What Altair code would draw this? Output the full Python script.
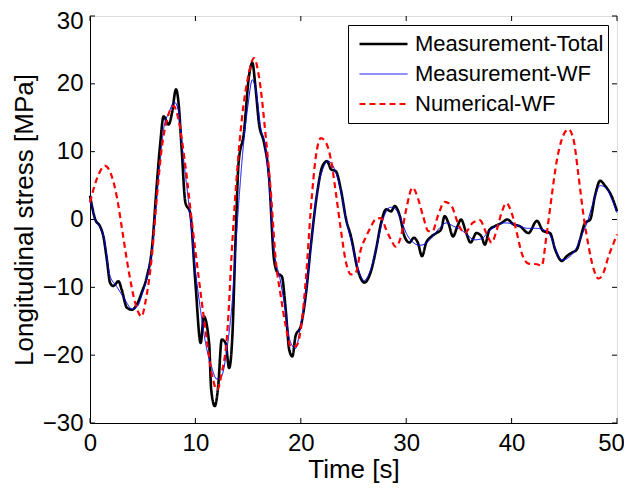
import altair as alt
import pandas as pd

# ---------------- data ----------------
series_names = ["Measurement-Total", "Measurement-WF", "Numerical-WF"]

total_t = [0, 0.5, 0.95, 1.27, 1.6, 1.9, 2.2, 2.7, 3.0, 3.5, 4.0, 4.45, 4.9, 5.4, 5.87,
           6.35, 6.67, 6.98, 7.46, 7.78, 8.16, 8.4, 8.7, 9.05, 9.5, 10.0, 10.5, 10.8, 11.3,
           11.5, 11.84, 12.16, 12.5, 12.86, 13.2, 13.5, 13.8, 14.1, 14.6, 15.08, 15.4, 15.7,
           16.03, 16.5, 16.98, 17.46, 17.8, 18.2, 18.57, 18.9, 19.2, 19.5, 20.0, 20.5, 20.95,
           21.6, 22.06, 22.5, 22.86, 23.33, 23.8, 24.3, 24.76, 25.4, 26.03, 26.7, 27.14,
           27.62, 28.1, 28.57, 28.9, 29.4, 29.84, 30.3, 30.73, 31.1, 31.5, 31.9, 32.4, 32.86,
           33.3, 33.65, 34.0, 34.44, 34.86, 35.2, 35.7, 36.1, 36.67, 37.14, 37.46, 37.9, 38.4,
           39.05, 39.6, 40.16, 40.8, 41.6, 42.4, 43.0, 43.65, 44.13, 44.76, 45.24, 45.7, 46.2,
           46.5, 46.98, 47.46, 47.9, 48.4, 48.9, 49.5, 50.0]
total_v = [3.5, 0.0, -1.0, -2.5, -5.9, -9.3, -9.8, -9.1, -10.3, -13.0, -13.3, -12.5, -10.8,
           -8.4, -4.4, 5.4, 11.3, 15.2, 14.0, 15.7, 19.2, 17.2, 10.3, 2.5, 1.0, -9.3, -18.2,
           -14.3, -18.2, -25.1, -27.5, -24.6, -17.7, -18.2, -21.9, -17.4, -3.4, 8.4, 12.8,
           21.1, 23.1, 19.5, 14.2, 11.4, 6.4, -5.9, -7.9, -8.4, -13.3, -19.2, -20.2, -17.2,
           -15.7, -10.8, -3.9, 4.4, 7.9, 8.6, 7.4, 7.1, 4.4, 0.0, -2.5, -7.4, -9.3, -7.4,
           -4.4, -0.5, 1.5, 1.2, 2.0, 0.5, -2.5, -3.4, -2.7, -3.4, -5.4, -3.4, -2.5, -2.0,
           -1.5, 0.5, -0.5, -2.5, -1.0, 0.0, -2.0, -3.4, -2.0, -2.5, -3.7, -1.5, -1.0, -0.5,
           0.0, -0.7, -1.0, -2.0, -0.2, -1.7, -2.0, -4.4, -6.1, -5.4, -4.9, -4.4, -2.9, -0.5,
           0.0, 3.4, 5.7, 4.9, 3.4, 1.2]

wf_t = [0, 0.5, 1.0, 1.3, 1.9, 2.5, 3.2, 4.0, 4.5, 5.0, 5.5, 6.0, 6.5, 7.0, 7.5, 8.0, 8.4,
        8.8, 9.5, 10.0, 10.5, 11.0, 11.5, 12.0, 12.5, 13.0, 13.5, 14.0, 14.5, 15.0, 15.4,
        15.8, 16.2, 16.6, 17.0, 17.5, 18.0, 18.5, 19.0, 19.5, 20.0, 20.5, 21.0, 21.5, 22.0,
        22.6, 23.3, 23.8, 24.3, 25.0, 25.5, 26.0, 26.6, 27.2, 27.8, 28.5, 29.0, 29.5, 30.0,
        30.6, 31.3, 31.9, 32.5, 33.2, 33.8, 34.5, 35.2, 35.8, 36.5, 37.2, 37.8, 38.5, 39.3,
        40.0, 40.8, 41.5, 42.3, 43.0, 43.6, 44.2, 44.8, 45.4, 46.0, 46.6, 47.2, 47.8, 48.4,
        49.0, 49.5, 50.0]
wf_v = [3.5, 0.0, -1.3, -2.5, -8.3, -9.8, -11.5, -13.2, -12.8, -10.8, -8.0, -3.0, 6.0,
        13.5, 15.8, 17.3, 16.0, 10.0, 0.5, -7.5, -13.5, -18.5, -21.5, -23.5, -23.0, -19.0,
        -12.0, 0.0, 10.0, 17.0, 20.6, 18.5, 13.5, 11.0, 5.0, -5.0, -8.5, -13.0, -18.0,
        -19.0, -15.5, -10.5, -3.5, 3.5, 7.0, 8.6, 7.0, 4.2, 0.0, -4.5, -7.5, -9.0, -7.5,
        -4.0, 0.0, 1.8, 1.5, 0.0, -2.0, -3.3, -3.8, -3.5, -2.5, -1.2, -0.5, -1.0, -1.5,
        -2.3, -3.0, -2.8, -1.8, -1.0, -0.5, -0.6, -1.0, -1.3, -1.3, -1.5, -2.2, -4.5, -6.0,
        -5.6, -4.6, -2.5, -0.3, 2.8, 5.0, 4.6, 3.0, 1.0]

num_t = [0, 0.63, 1.43, 2.06, 2.54, 3.0, 3.65, 4.29, 4.9, 5.24, 5.87, 6.35, 6.83, 7.3, 7.94,
         8.4, 9.05, 9.68, 10.3, 10.95, 11.6, 12.06, 12.5, 13.0, 13.5, 13.97, 14.4, 15.08,
         15.56, 16.03, 16.67, 17.14, 17.62, 18.1, 18.57, 19.05, 19.5, 20.0, 20.5, 20.95,
         21.43, 21.9, 22.4, 22.86, 23.33, 23.8, 24.3, 24.76, 25.2, 25.7, 26.2, 26.67, 27.14,
         27.62, 28.1, 28.57, 29.0, 29.5, 30.0, 30.6, 31.1, 31.6, 32.1, 32.5, 33.0, 33.65,
         34.3, 34.9, 35.55, 36.3, 36.98, 37.6, 38.1, 38.6, 39.05, 39.5, 40.0, 40.5, 40.95,
         41.6, 42.4, 42.86, 43.3, 43.8, 44.3, 44.76, 45.4, 45.9, 46.35, 46.83, 47.3, 47.8,
         48.25, 48.7, 49.2, 49.7, 50.0]
num_v = [2.5, 5.9, 7.9, 6.4, 3.4, -1.0, -7.4, -12.3, -14.3, -12.3, -5.4, 3.4, 10.8, 14.7,
         16.7, 14.7, 7.9, -0.5, -8.4, -16.2, -23.1, -25.1, -22.6, -17.2, -3.4, 7.4, 14.7,
         21.6, 23.8, 21.1, 12.3, 4.4, -5.9, -11.3, -15.7, -18.7, -18.7, -16.2, -8.4, 1.5,
         9.3, 12.0, 11.3, 8.8, 3.9, -1.5, -6.4, -8.1, -7.9, -4.4, -2.5, -1.0, 0.1, 0.2,
         -1.5, -3.0, -4.0, -2.5, 1.5, 4.7, 3.2, 0.5, -1.7, -1.7, 0.5, 2.6, 2.0, -0.5, -2.0,
         -0.5, -0.1, -2.0, -3.4, -1.5, 1.0, 2.4, 1.0, -2.0, -4.9, -6.5, -6.6, -6.8, -2.5,
         3.4, 8.8, 11.8, 13.3, 11.6, 6.4, 0.5, -3.9, -7.4, -8.7, -7.9, -5.4, -3.4, -2.2]

x_ticks = [0, 10, 20, 30, 40, 50]
y_ticks = [-30, -20, -10, 0, 10, 20, 30]

# ---------------- tables ----------------
df = pd.concat([
    pd.DataFrame({"t": total_t, "v": total_v, "series": series_names[0]}),
    pd.DataFrame({"t": wf_t, "v": wf_v, "series": series_names[1]}),
    pd.DataFrame({"t": num_t, "v": num_v, "series": series_names[2]}),
], ignore_index=True)
df["order"] = range(len(df))
xt = pd.DataFrame({"t": x_ticks})
yt = pd.DataFrame({"v": y_ticks})

W, H = 527, 407
FONT = "Liberation Sans"

xscale = alt.Scale(domain=[0, 50], nice=False, zero=False)
yscale = alt.Scale(domain=[-30, 30], nice=False, zero=False)
xaxis = alt.Axis(values=x_ticks, ticks=False, tickSize=0, grid=False, labelFlush=False,
                 labelOffset={"condition": {"test": "datum.value == 50", "value": -6}, "value": 0},
                 labelPadding=8, titlePadding=1, domainColor="black", labelColor="black",
                 titleColor="black", labelFontSize=24, titleFontSize=26,
                 titleFontWeight="normal", labelFont=FONT, titleFont=FONT)
yaxis = alt.Axis(values=y_ticks, ticks=False, tickSize=0, grid=False, labelFlush=False,
                 labelOffset={"condition": {"test": "datum.value == 30", "value": 5}, "value": 0},
                 labelPadding=7, titlePadding=5, domainColor="black", labelColor="black",
                 titleColor="black", labelFontSize=24, titleFontSize=26,
                 titleFontWeight="normal", labelFont=FONT, titleFont=FONT)
X = alt.X("t:Q", scale=xscale, axis=xaxis, title="Time [s]")
Y = alt.Y("v:Q", scale=yscale, axis=yaxis, title="Longitudinal stress [MPa]")

leg = alt.Legend(title=None, orient="none", legendX=258, legendY=9,
                 strokeColor="black", fillColor="white", padding=4,
                 symbolType="stroke", symbolSize=2304, symbolOffset=6,
                 clipHeight=30, rowPadding=0, labelFontSize=22, labelFont=FONT,
                 labelColor="black", labelLimit=400, labelOffset=6)

lines = alt.Chart(df).mark_line(interpolate="monotone").encode(
    x=X, y=Y,
    color=alt.Color("series:N", scale=alt.Scale(domain=series_names,
                    range=["#000000", "#0000ff", "#ff0000"]), legend=leg),
    strokeDash=alt.StrokeDash("series:N", scale=alt.Scale(type="ordinal", domain=series_names,
                              range=[[1, 0], [1, 0], [6, 4]]), legend=leg),
    strokeWidth=alt.StrokeWidth("series:N", scale=alt.Scale(type="ordinal", domain=series_names,
                                range=[2.6, 1, 2.2]), legend=leg),
    order="order:Q",
)

tick_len = 5
xb = alt.Chart(xt).mark_rule(color="black", strokeWidth=1).encode(
    x=X, y=alt.value(H), y2=alt.value(H - tick_len))
xtop = alt.Chart(xt).mark_rule(color="black", strokeWidth=1).encode(
    x=X, y=alt.value(0), y2=alt.value(tick_len))
yl = alt.Chart(yt).mark_rule(color="black", strokeWidth=1).encode(
    y=Y, x=alt.value(0), x2=alt.value(tick_len))
yr = alt.Chart(yt).mark_rule(color="black", strokeWidth=1).encode(
    y=Y, x=alt.value(W), x2=alt.value(W - tick_len))

chart = alt.layer(xb, xtop, yl, yr, lines).properties(
    width=W, height=H,
    autosize=alt.AutoSizeParams(type="none"),
    padding={"left": 82, "top": 8, "right": 7, "bottom": 66},
).configure_view(stroke="black", strokeWidth=1).configure(background="white")

chart.save("out.html", embed_options={"renderer": "svg", "actions": False})
